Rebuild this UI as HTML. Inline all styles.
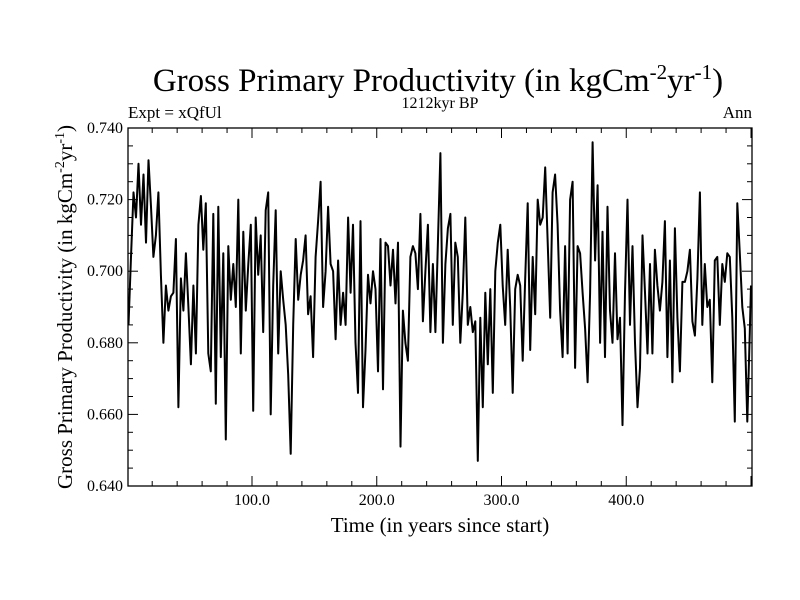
<!DOCTYPE html>
<html><head><meta charset="utf-8"><style>
html,body{margin:0;padding:0;background:#fff;}
svg{display:block;font-family:"Liberation Serif",serif;}
</style></head><body>
<svg id="chart" width="800" height="600">
<text x="438" y="91" text-anchor="middle" font-size="33">Gross Primary Productivity (in kgCm<tspan dy="-12" font-size="21">-2</tspan><tspan dy="12">yr</tspan><tspan dy="-12" font-size="21">-1</tspan><tspan dy="12">)</tspan></text>
<text x="440" y="108" text-anchor="middle" font-size="16">1212kyr BP</text>
<text x="128" y="118" font-size="17">Expt = xQfUl</text>
<text x="752" y="118" text-anchor="end" font-size="17">Ann</text>
<text transform="translate(72,307) rotate(-90)" text-anchor="middle" font-size="21">Gross Primary Productivity (in kgCm<tspan dy="-8" font-size="14">-2</tspan><tspan dy="8">yr</tspan><tspan dy="-8" font-size="14">-1</tspan><tspan dy="8">)</tspan></text>
<text x="440" y="532" text-anchor="middle" font-size="21">Time (in years since start)</text>
<g id="axes"></g>
<path id="series" fill="none" stroke="#000" stroke-width="2" stroke-linejoin="round"/>
<rect x="128" y="128" width="624" height="358" fill="none" stroke="#000" stroke-width="1.3"/>
</svg>
<script>
const yTickValues=[0.640,0.660,0.680,0.700,0.720,0.740];
const yTickLabels=["0.640","0.660","0.680","0.700","0.720","0.740"];
const xTickValues=[100,200,300,400];
const xTickLabels=["100.0","200.0","300.0","400.0"];
const startYear=1, yearStep=2;
const gpp=[0.685,0.704,0.722,0.715,0.730,0.713,0.727,0.708,0.731,0.718,0.704,0.710,0.722,0.699,0.680,0.696,0.689,0.693,0.694,0.709,0.662,0.698,0.689,0.705,0.690,0.674,0.696,0.677,0.713,0.721,0.706,0.719,0.677,0.672,0.716,0.663,0.718,0.676,0.705,0.653,0.707,0.692,0.702,0.690,0.720,0.677,0.711,0.689,0.702,0.713,0.661,0.715,0.699,0.710,0.683,0.717,0.722,0.660,0.696,0.717,0.677,0.700,0.692,0.685,
0.671,0.649,0.685,0.709,0.692,0.699,0.703,0.710,0.688,0.693,0.676,0.704,0.714,0.725,0.690,0.700,0.718,0.702,0.700,0.681,0.703,0.685,0.694,0.685,0.715,0.694,0.713,0.680,0.666,0.714,0.662,0.678,0.699,0.691,0.700,0.695,0.672,0.709,0.667,0.708,0.707,0.696,0.706,0.691,0.708,0.651,0.689,0.680,0.675,0.704,0.707,0.705,0.695,0.716,0.686,0.700,0.713,0.683,0.702,0.683,0.708,0.733,
0.680,0.702,0.712,0.716,0.685,0.708,0.704,0.680,0.694,0.715,0.685,0.690,0.683,0.686,0.647,0.687,0.662,0.694,0.674,0.695,0.666,0.700,0.708,0.713,0.696,0.685,0.706,0.690,0.666,0.695,0.699,0.696,0.675,0.698,0.719,0.678,0.704,0.688,0.720,0.713,0.715,0.729,0.708,0.687,0.722,0.727,0.713,0.689,0.676,0.707,0.677,0.720,0.725,0.673,0.707,0.705,0.694,0.684,0.669,0.694,0.736,0.703,
0.724,0.680,0.711,0.676,0.718,0.689,0.680,0.705,0.681,0.687,0.657,0.694,0.720,0.685,0.707,0.680,0.662,0.673,0.710,0.694,0.677,0.702,0.677,0.706,0.696,0.689,0.697,0.714,0.676,0.703,0.669,0.712,0.687,0.672,0.697,0.697,0.700,0.706,0.686,0.682,0.698,0.722,0.685,0.702,0.690,0.692,0.669,0.703,0.704,0.685,0.702,0.697,0.705,0.704,0.687,0.658,0.719,0.705,0.690,0.684,0.658,0.683,0.696];
const X0=128,X1=752,Y0=486,Y1=128,xmin=0.6,xmax=500.8,ymin=0.64,ymax=0.74;
const xs=v=>X0+(v-xmin)/(xmax-xmin)*(X1-X0);
const ys=v=>Y0-(v-ymin)/(ymax-ymin)*(Y0-Y1);
const NS="http://www.w3.org/2000/svg";
const axes=document.getElementById('axes');
function line(x1,y1,x2,y2,name){const l=document.createElementNS(NS,'line');
l.setAttribute('x1',x1);l.setAttribute('y1',y1);l.setAttribute('x2',x2);l.setAttribute('y2',y2);
l.setAttribute('stroke','#000');l.setAttribute('stroke-width','1');


axes.appendChild(l);}
function text(x,y,s,anchor,name){const t=document.createElementNS(NS,'text');
t.setAttribute('x',x);t.setAttribute('y',y);t.setAttribute('font-size','16');t.setAttribute('text-anchor',anchor);t.textContent=s;


axes.appendChild(t);}
for(let v=0.640;v<=0.7401;v+=0.005){const y=ys(v);const major=Math.abs((v*1000)%20)<0.5||Math.abs((v*1000)%20-20)<0.5;const L=major?10:5;
line(X0,y,X0+L,y,'y-tick');line(X1-L,y,X1,y,'y-tick-right');}
yTickValues.forEach((v,i)=>text(X0-5,ys(v)+5,yTickLabels[i],'end','y-tick-label'));
for(let v=20;v<=500;v+=20){const x=xs(v);const L=(v%100===0)?10:5;
line(x,Y0,x,Y0-L,'x-tick');line(x,Y1,x,Y1+L,'x-tick-top');}
xTickValues.forEach((v,i)=>text(xs(v),505,xTickLabels[i],'middle','x-tick-label'));
let d='';gpp.forEach((v,i)=>{const yr=Math.min(startYear+i*yearStep,500);d+=(i?'L':'M')+xs(yr).toFixed(1)+','+ys(v).toFixed(1);});
document.getElementById('series').setAttribute('d',d);
</script>
</body></html>
